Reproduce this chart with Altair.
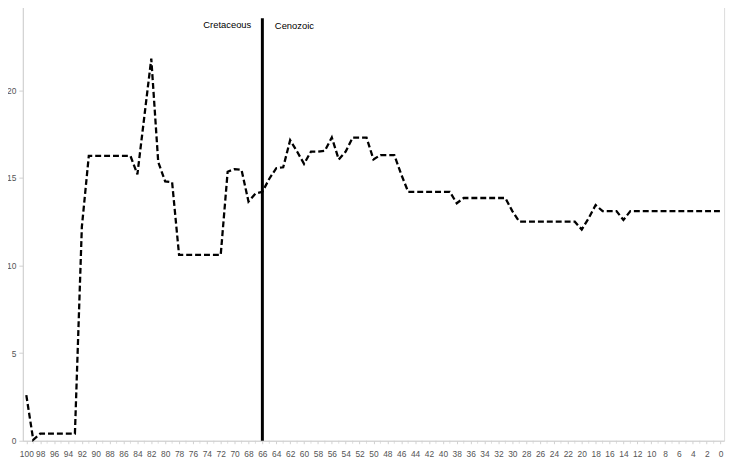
import altair as alt
import pandas as pd

years = list(range(100, -1, -1))
values = [
    2.6, 0.05, 0.4, 0.4, 0.4, 0.4, 0.4, 0.4, 12.2, 16.25,          # 100-91
    16.25, 16.25, 16.25, 16.25, 16.25, 16.25, 15.2, 18.5, 21.8, 15.9,  # 90-81
    14.8, 14.75, 10.6, 10.6, 10.6, 10.6, 10.6, 10.6, 10.6, 15.35,  # 80-71
    15.5, 15.45, 13.65, 14.1, 14.2, 14.95, 15.55, 15.6, 17.15, 16.5,  # 70-61
    15.8, 16.5, 16.5, 16.55, 17.3, 16.05, 16.5, 17.3, 17.3, 17.3,  # 60-51
    16.05, 16.3, 16.3, 16.3, 15.2, 14.2, 14.2, 14.2, 14.2, 14.2,   # 50-41
    14.2, 14.2, 13.55, 13.85, 13.85, 13.85, 13.85, 13.85, 13.85, 13.85,  # 40-31
    13.1, 12.5, 12.5, 12.5, 12.5, 12.5, 12.5, 12.5, 12.5, 12.5,    # 30-21
    12.05, 12.7, 13.45, 13.1, 13.1, 13.1, 12.6, 13.1, 13.1, 13.1,  # 20-11
    13.1, 13.1, 13.1, 13.1, 13.1, 13.1, 13.1, 13.1, 13.1, 13.1, 13.1,  # 10-0
]
x_label_values = list(range(0, 101, 2))
x_minor_ticks = list(range(1, 100, 2))
y_ticks = [0, 5, 10, 15, 20, 25]

boundary_year = [66]
boundary_top = [24.1]
label_text = ["Cretaceous", "Cenozoic"]
label_x = [67.6, 64.2]
label_y = [23.55, 23.5]
label_align = ["right", "left"]

FONT = "Liberation Sans"
AXIS_GRAY = "#d0d0d0"

df = pd.DataFrame({"year": years, "value": values})
minor_df = pd.DataFrame({"year": x_minor_ticks, "base": [0] * len(x_minor_ticks)})
rule_df = pd.DataFrame({"year": boundary_year, "top": boundary_top, "bottom": [0] * len(boundary_year)})
lab_df = pd.DataFrame({"text": label_text, "x": label_x, "y": label_y, "align": label_align})

xscale = alt.Scale(domain=[-0.5, 100.5], reverse=True, nice=False, zero=False)
yscale = alt.Scale(domain=[0, 25], nice=False)

x_axis = alt.Axis(values=x_label_values,
                  grid=False, domainColor=AXIS_GRAY, tickColor=AXIS_GRAY,
                  tickSize=3, labelColor="#555555", labelFont=FONT,
                  labelFontSize=8.5, labelPadding=6, labelFlush=False,
                  labelOverlap=False, labelBound=False)
y_axis = alt.Axis(values=y_ticks, grid=False, domainColor=AXIS_GRAY,
                  tickColor=AXIS_GRAY, tickSize=4, labelColor="#555555",
                  labelFont=FONT, labelFontSize=8.5, labelPadding=3,
                  labelOverlap=False)


def X(field):
    return alt.X(field, type="quantitative", scale=xscale, axis=x_axis, title=None)


def Y(field):
    return alt.Y(field, type="quantitative", scale=yscale, axis=y_axis, title=None)


line = alt.Chart(df).mark_line(
    color="black", strokeWidth=2.3, strokeDash=[6, 3]
).encode(x=X("year"), y=Y("value"))

minor = alt.Chart(minor_df).mark_tick(
    color=AXIS_GRAY, thickness=1, size=3, orient="vertical", yOffset=1.5
).encode(x=X("year"), y=Y("base"))

rule = alt.Chart(rule_df).mark_rule(color="black", strokeWidth=3).encode(
    x=X("year"), y=Y("bottom"), y2="top:Q"
)

texts_r = alt.Chart(lab_df[lab_df["align"] == "right"]).mark_text(
    align="right", baseline="alphabetic", font=FONT, fontSize=9.5, color="black"
).encode(x=X("x"), y=Y("y"), text="text:N")

texts_l = alt.Chart(lab_df[lab_df["align"] == "left"]).mark_text(
    align="left", baseline="alphabetic", font=FONT, fontSize=9.5, color="black"
).encode(x=X("x"), y=Y("y"), text="text:N")

chart = alt.layer(minor, line, rule, texts_r, texts_l).properties(
    width=709, height=443,
    autosize=alt.AutoSizeParams(type="none"),
    padding={"left": 15, "top": -8, "right": 8, "bottom": 20},
).configure_view(stroke=None).configure_axis(labelOverlap=False).configure(background="white")

chart.save("out.html", embed_options={"renderer": "svg", "actions": False})
